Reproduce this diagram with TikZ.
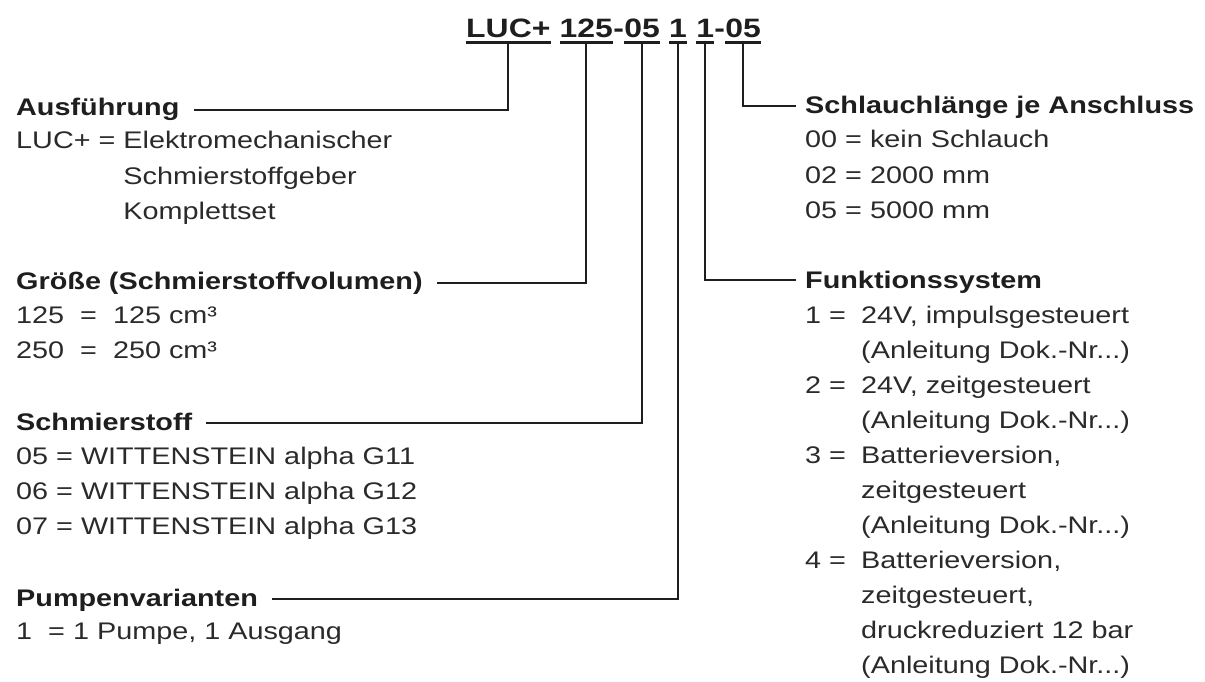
\documentclass[tikz,border=0pt]{standalone}
\usepackage{fontspec}
\setmainfont{Liberation Sans}[FakeStretch=1.2]
\usetikzlibrary{calc}
\definecolor{ink}{HTML}{1E1E1E}
\definecolor{txt}{HTML}{2A2A2A}
\newcommand\lbl[1]{\makebox[56pt][l]{#1}}
\tikzset{
  body/.style={anchor=base west, inner sep=0pt, font=\fontsize{24}{35}\selectfont, text=txt},
  head/.style={anchor=base west, inner sep=0pt, font=\fontsize{24}{35}\selectfont\bfseries, text=ink},
  code/.style={anchor=base west, inner sep=0pt, font=\fontsize{26.6}{30}\selectfont\bfseries, text=ink},
  ul/.style={line width=2.6pt, draw=ink},
  conn/.style={line width=1.8pt, draw=ink},
}
\begin{document}
\begin{tikzpicture}[x=1pt,y=-1pt]
\useasboundingbox (0,0) rectangle (1205,682);
% ---- type code ----
\node[code] (t1) at (466,38) {LUC+};
\node[code] (t2) at ([xshift=8.9pt]t1.base east) {125};
\node[code] (t2h) at (t2.base east) {-};
\node[code] (t3) at (t2h.base east) {05};
\node[code] (t4) at ([xshift=8.9pt]t3.base east) {1};
\node[code] (t5) at ([xshift=8.9pt]t4.base east) {1};
\node[code] (t5h) at (t5.base east) {-};
\node[code] (t6) at (t5h.base east) {05};
\foreach \t in {t1,t2,t3,t4,t5,t6}
  \draw[ul] ([yshift=-4.5pt]\t.base west) -- ([yshift=-4.5pt]\t.base east);
% ---- left column ----
\node[head] (a0) at (16,116) {Ausführung};
\node[body] (a1) at (16,149) {LUC+ = Elektromechanischer};
\node[body] (a2) at (16,184) {\hphantom{LUC+ = }Schmierstoffgeber};
\node[body] (a3) at (16,219) {\hphantom{LUC+ = }Komplettset};
\node[head] (g0) at (16,289) {Größe (Schmierstoffvolumen)};
\node[body] (g1) at (16,323) {125\ \ =\ \ 125 cm³};
\node[body] (g2) at (16,358) {250\ \ =\ \ 250 cm³};
\node[head] (s0) at (16,430) {Schmierstoff};
\node[body] (s1) at (16,464) {05 = WITTENSTEIN alpha G11};
\node[body] (s2) at (16,499) {06 = WITTENSTEIN alpha G12};
\node[body] (s3) at (16,534) {07 = WITTENSTEIN alpha G13};
\node[head] (p0) at (16,606) {Pumpenvarianten};
\node[body] (p1) at (16,639) {1\ \ = 1 Pumpe, 1 Ausgang};
% ---- right column ----
\node[head] (l0) at (805,114) {Schlauchlänge je Anschluss};
\node[body] (l1) at (805,148) {00 = kein Schlauch};
\node[body] (l2) at (805,183) {02 = 2000 mm};
\node[body] (l3) at (805,218) {05 = 5000 mm};
\node[head] (f0) at (805,288) {Funktionssystem};
\node[body] (f1) at (805,323) {\lbl{1 =}24V, impulsgesteuert};
\node[body] (f2) at (805,358) {\lbl{}(Anleitung Dok.-Nr...)};
\node[body] (f3) at (805,393) {\lbl{2 =}24V, zeitgesteuert};
\node[body] (f4) at (805,428) {\lbl{}(Anleitung Dok.-Nr...)};
\node[body] (f5) at (805,463) {\lbl{3 =}Batterieversion,};
\node[body] (f6) at (805,498) {\lbl{}zeitgesteuert};
\node[body] (f7) at (805,533) {\lbl{}(Anleitung Dok.-Nr...)};
\node[body] (f8) at (805,568) {\lbl{4 =}Batterieversion,};
\node[body] (f9) at (805,603) {\lbl{}zeitgesteuert,};
\node[body] (f10) at (805,638) {\lbl{}druckreduziert 12 bar};
\node[body] (f11) at (805,673) {\lbl{}(Anleitung Dok.-Nr...)};
% ---- connector ends ----
\coordinate (ca) at ([xshift=14pt,yshift=6pt]a0.base east);
\coordinate (cg) at ([xshift=14pt,yshift=6pt]g0.base east);
\coordinate (cs) at ([xshift=14pt,yshift=7pt]s0.base east);
\coordinate (cp) at ([xshift=14pt,yshift=7pt]p0.base east);
\coordinate (cl) at ([xshift=-9pt,yshift=8pt]l0.base west);
\coordinate (cf) at ([xshift=-9pt,yshift=8pt]f0.base west);
% ---- connectors ----
\draw[conn] ([yshift=-4.5pt]t1.base) |- (ca);
\draw[conn] ([yshift=-4.5pt]t2.base) |- (cg);
\draw[conn] ([yshift=-4.5pt]t3.base) |- (cs);
\draw[conn] ([yshift=-4.5pt]t4.base) |- (cp);
\draw[conn] ([yshift=-4.5pt]t5.base) |- (cf);
\draw[conn] ([yshift=-4.5pt]t6.base) |- (cl);
\end{tikzpicture}
\end{document}
